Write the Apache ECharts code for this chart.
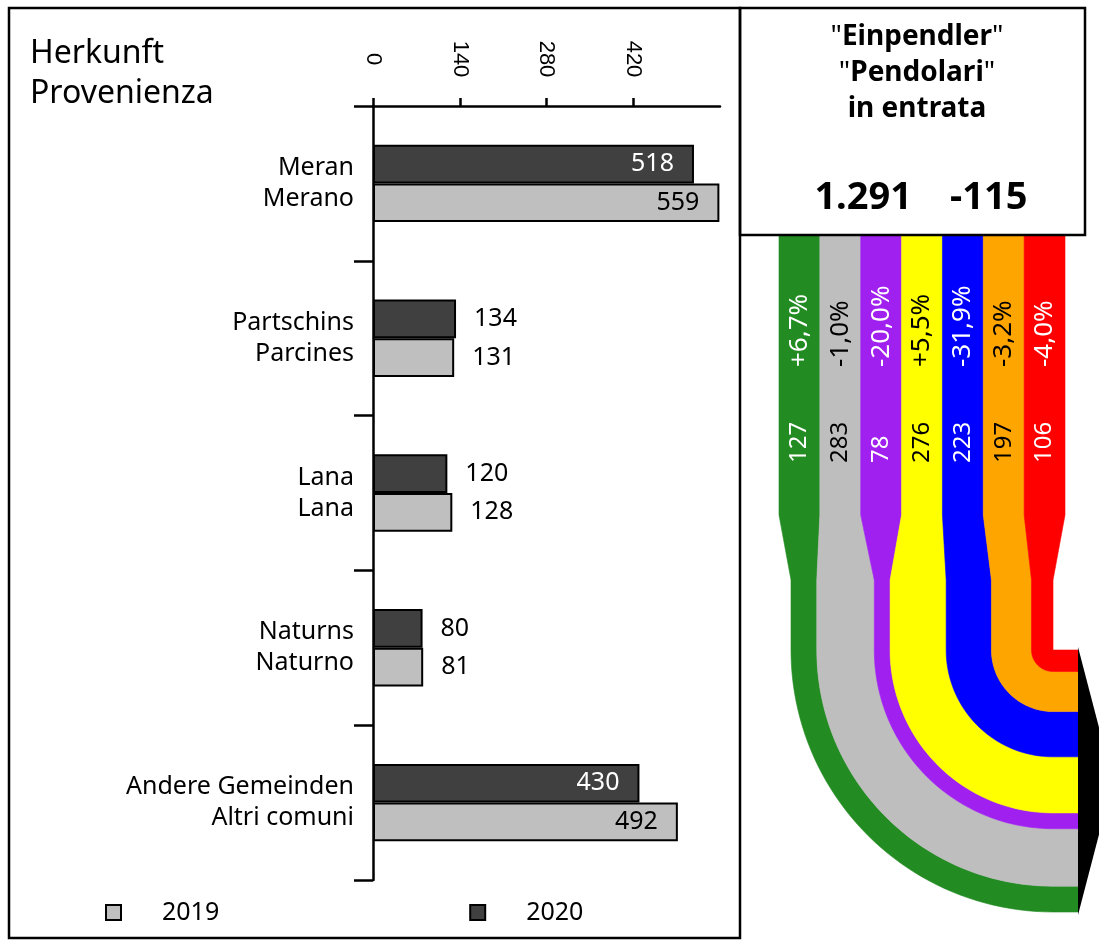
<!DOCTYPE html>
<html>
<head>
<meta charset="utf-8">
<script src="https://cdn.jsdelivr.net/npm/echarts@6/dist/echarts.min.js"></script>
<style>html,body{margin:0;padding:0;background:#fff}#c{width:1099px;height:942px}</style>
</head>
<body>
<div id="c"></div>
<script>
// ---- data ----
const categoriesDe = ['Meran', 'Partschins', 'Lana', 'Naturns', 'Andere Gemeinden'];
const categoriesIt = ['Merano', 'Parcines', 'Lana', 'Naturno', 'Altri comuni'];
const values2019 = [559, 131, 128, 81, 492];
const values2020 = [518, 134, 120, 80, 430];
const xTickValues = [0, 140, 280, 420];
const xAxisMax = 560;
const flowValues = [127, 283, 78, 276, 223, 197, 106];
const flowChanges = [6.7, -1.0, -20.0, 5.5, -31.9, -3.2, -4.0];
const totalCommuters = 1291;
const totalChange = -115;

// ---- style ----
const flowColors = ['#228b22', '#bebebe', '#a020f0', '#ffff00', '#0000ff', '#ffa500', '#ff0000'];
const flowLabelColors = ['#fff', '#000', '#fff', '#000', '#fff', '#000', '#fff'];
const FONT = '"Noto Sans", sans-serif';

const flowTotal = flowValues.reduce((a, b) => a + b, 0);
const cumBefore = flowValues.map((v, i) => flowValues.slice(0, i).reduce((a, b) => a + b, 0));
function fmtPct(v) { return (v > 0 ? '+' : '') + v.toFixed(1).replace('.', ',') + '%'; }
function fmtThousands(n) {
  const s = Math.abs(n).toString().replace(/\B(?=(\d{3})+(?!\d))/g, '.');
  return (n < 0 ? '-' : '') + s;
}
function barData(vals, dark) {
  return vals.map(v => ({
    value: v,
    label: v > 300
      ? { position: 'insideRight', distance: 20, color: dark ? '#fff' : '#000' }
      : { position: 'right', distance: 18, color: '#000' }
  }));
}

function renderFlow(params, api) {
  const i = api.value(0);
  const v = api.value(1);
  const cs = params.coordSys;
  const n = flowValues.length;
  const spread = 12;
  const topW = (cs.width + 2 * spread) / n;
  const tl = cs.x - spread + i * topW, tr = tl + topW;
  const x0 = api.coord([cumBefore[i], 0])[0];
  const x1 = api.coord([cumBefore[i] + v, 0])[0];
  const yTop = cs.y, yT1 = cs.y + 280, yT2 = cs.y + 345, cy = cs.y + 415;
  const cx = cs.x + cs.width;
  const rIn = cx - x1, rOut = cx - x0;
  const xEnd = cx + 25;
  const pts = [[tl, yTop], [tr, yTop], [tr, yT1], [x1, yT2], [x1, cy]];
  const N = 48;
  for (let k = 1; k <= N; k++) {
    const a = Math.PI - (Math.PI / 2) * k / N;
    pts.push([cx + rIn * Math.cos(a), cy + rIn * Math.sin(a)]);
  }
  pts.push([xEnd, cy + rIn]);
  pts.push([xEnd, cy + rOut]);
  for (let k = 0; k <= N; k++) {
    const a = Math.PI / 2 + (Math.PI / 2) * k / N;
    pts.push([cx + rOut * Math.cos(a), cy + rOut * Math.sin(a)]);
  }
  pts.push([x0, yT2]);
  pts.push([tl, yT1]);
  const children = [
    { type: 'polygon', shape: { points: pts }, style: { fill: flowColors[i], stroke: flowColors[i], lineWidth: 0.6 } },
    { type: 'text', x: tl + topW / 2, y: yTop + 132, rotation: Math.PI / 2,
      style: { text: fmtPct(flowChanges[i]), fill: flowLabelColors[i], font: '26px ' + FONT, align: 'left', verticalAlign: 'middle' } },
    { type: 'text', x: tl + topW / 2, y: yTop + 228, rotation: Math.PI / 2,
      style: { text: String(v), fill: flowLabelColors[i], font: '24px ' + FONT, align: 'left', verticalAlign: 'middle' } }
  ];
  if (i === n - 1) {
    const R = api.coord([flowTotal, 0])[0] - api.coord([0, 0])[0];
    children.push({ type: 'polygon', z2: 10, shape: { points: [[xEnd, cy - 3], [xEnd + 35, cy + R / 2], [xEnd, cy + R + 3]] },
      style: { fill: '#000' } });
  }
  return { type: 'group', children };
}

const chart = echarts.init(document.getElementById('c'));
chart.setOption({
  animation: false,
  backgroundColor: '#fff',
  title: [
    { text: 'Herkunft\nProvenienza', left: 25, top: 29,
      textStyle: { fontFamily: FONT, fontSize: 32, fontWeight: 'normal', color: '#000', lineHeight: 40 } },
    { text: '{q|"}Einpendler{q|"}\n{q|"}Pendolari{q|"}\nin entrata', left: 912, top: 14, textAlign: 'center',
      textStyle: { fontFamily: FONT, fontSize: 28, fontWeight: 'bold', color: '#000', lineHeight: 36,
        rich: { q: { fontFamily: FONT, fontSize: 28, fontWeight: 'normal', color: '#000', lineHeight: 36 } } } }
  ],
  legend: {
    data: ['2019', '2020'], left: 100, top: 895, itemWidth: 15, itemHeight: 15, itemGap: 250,
    icon: 'rect',
    textStyle: { fontFamily: FONT, fontSize: 25, color: '#000', padding: [0, 0, 0, 36] }
  },
  grid: [
    { left: 373, right: 379, top: 106, bottom: 62 },
    { left: 791, top: 235, width: 262, height: 677 }
  ],
  xAxis: [
    { type: 'value', position: 'top', min: 0, max: xAxisMax, interval: 140, gridIndex: 0,
      splitLine: { show: false },
      axisLine: { show: true, lineStyle: { color: '#000', width: 2.5 } },
      axisTick: { show: true, length: 8, lineStyle: { color: '#000', width: 2.5 }, customValues: xTickValues },
      axisLabel: { rotate: 90, align: 'center', verticalAlign: 'middle', margin: 47, customValues: xTickValues,
        fontFamily: '"Liberation Sans", Arial, sans-serif', fontSize: 22, color: '#000' } },
    { type: 'value', gridIndex: 1, min: 0, max: flowTotal, show: false }
  ],
  yAxis: [
    { type: 'category', inverse: true, gridIndex: 0, data: categoriesDe,
      axisLine: { show: true, lineStyle: { color: '#000', width: 2.5 } },
      axisTick: { show: true, length: 19, lineStyle: { color: '#000', width: 2.5 } },
      axisLabel: { margin: 19, fontFamily: FONT, fontSize: 25, color: '#000', lineHeight: 31, align: 'right',
        formatter: (val, idx) => categoriesDe[idx] + '\n' + categoriesIt[idx] } },
    { type: 'value', gridIndex: 1, min: 0, max: 1, show: false }
  ],
  series: [
    { name: '2020', type: 'bar', xAxisIndex: 0, yAxisIndex: 0, data: barData(values2020, true),
      barGap: '0%', barCategoryGap: '50%',
      itemStyle: { color: '#404040', borderColor: '#000', borderWidth: 2 },
      label: { show: true, fontFamily: FONT, fontSize: 25 } },
    { name: '2019', type: 'bar', xAxisIndex: 0, yAxisIndex: 0, data: barData(values2019, false),
      barGap: '0%', barCategoryGap: '50%',
      itemStyle: { color: '#bfbfbf', borderColor: '#000', borderWidth: 2 },
      label: { show: true, fontFamily: FONT, fontSize: 25 } },
    { name: 'flow', type: 'custom', xAxisIndex: 1, yAxisIndex: 1, clip: false,
      data: flowValues.map((v, i) => [i, v]), renderItem: renderFlow }
  ],
  graphic: [
    { type: 'rect', shape: { x: 9, y: 8, width: 731, height: 930 }, style: { fill: 'none', stroke: '#000', lineWidth: 2.5 }, z: 100 },
    { type: 'rect', shape: { x: 740, y: 8, width: 345, height: 227 }, style: { fill: 'none', stroke: '#000', lineWidth: 2.5 }, z: 100 },
    { type: 'text', x: 912, y: 198, style: { text: fmtThousands(totalCommuters), font: 'bold 38px ' + FONT, fill: '#000', align: 'right', verticalAlign: 'middle' }, z: 100 },
    { type: 'text', x: 950, y: 198, style: { text: fmtThousands(totalChange), font: 'bold 38px ' + FONT, fill: '#000', align: 'left', verticalAlign: 'middle' }, z: 100 }
  ]
});
</script>
</body>
</html>
